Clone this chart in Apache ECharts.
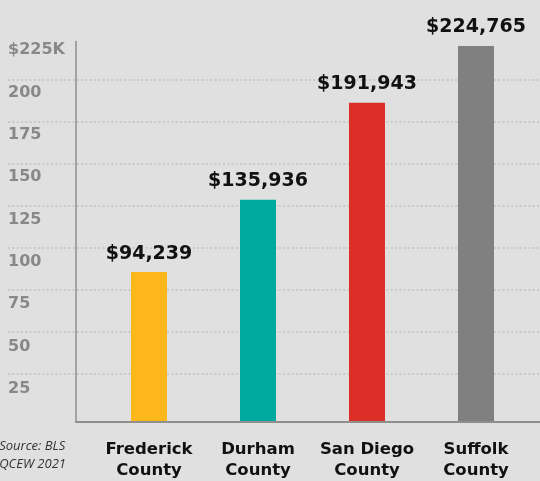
<!DOCTYPE html>
<html>
<head>
<meta charset="utf-8">
<script src="https://cdn.jsdelivr.net/npm/echarts@6/dist/echarts.min.js"></script>
<style>
html,body{margin:0;padding:0;background:#e0e0e0;}
#c{width:540px;height:481px;}
</style>
</head>
<body>
<div id="c"></div>
<script>
const categories = ["Frederick\nCounty", "Durham\nCounty", "San Diego\nCounty", "Suffolk\nCounty"];
const wages = [94239, 135936, 191943, 224765];
const barColors = ["#FDB71A", "#00A99D", "#DC2F28", "#808080"];
const tickLabels = ["25", "50", "75", "100", "125", "150", "175", "200", "$225K"];
const sourceLines = ["Source: BLS", "QCEW 2021"];

const chart = echarts.init(document.getElementById('c'), null, {renderer: 'canvas'});

const fmt = v => '$' + v.toLocaleString('en-US');

const option = {
  backgroundColor: '#e0e0e0',
  animation: false,
  grid: [
    {left: 94.5, right: 9.5, top: 41.5, bottom: 59.3},   // bars
    {left: 76, right: 0, top: 41.5, bottom: 59.3},       // axis lines
    {left: 8, right: 0, top: 79.3, bottom: 107},         // dotted gridlines
    {left: 8, right: 0, top: 50, bottom: 92}             // tick labels
  ],
  xAxis: [
    {
      gridIndex: 0, type: 'category', data: categories,
      axisLine: {show: false}, axisTick: {show: false},
      axisLabel: {
        margin: 18, color: '#111', fontFamily: 'DejaVu Sans', fontWeight: 'bold',
        fontSize: 16.5, lineHeight: 21, interval: 0
      }
    },
    {
      gridIndex: 1, type: 'value', min: 0, max: 1,
      axisLine: {show: true, lineStyle: {color: '#8f8f8f', width: 2}},
      axisTick: {show: false}, axisLabel: {show: false}, splitLine: {show: false}
    },
    {gridIndex: 2, type: 'value', show: false, min: 0, max: 1},
    {gridIndex: 3, type: 'value', show: false, min: 0, max: 1}
  ],
  yAxis: [
    {
      gridIndex: 0, type: 'value', min: 8300, max: 227300, show: false
    },
    {
      gridIndex: 1, type: 'value', min: 0, max: 1,
      axisLine: {show: true, lineStyle: {color: '#8f8f8f', width: 1.5}},
      axisTick: {show: false}, axisLabel: {show: false}, splitLine: {show: false}
    },
    {
      gridIndex: 2, type: 'value', min: 0, max: 7, interval: 1,
      axisLine: {show: false}, axisTick: {show: false}, axisLabel: {show: false},
      splitLine: {show: true, lineStyle: {color: '#c9c9c9', width: 2, type: [2, 2.3]}}
    },
    {
      gridIndex: 3, type: 'value', min: 0, max: 8, interval: 1,
      axisLine: {show: false}, axisTick: {show: false}, splitLine: {show: false},
      axisLabel: {
        inside: true, margin: 0, color: '#888888', fontFamily: 'DejaVu Sans',
        fontWeight: 'bold', fontSize: 16, align: 'left',
        formatter: v => tickLabels[v]
      }
    }
  ],
  series: [{
    type: 'bar',
    xAxisIndex: 0, yAxisIndex: 0,
    barWidth: 36,
    data: wages.map((v, i) => ({value: v, itemStyle: {color: barColors[i]}})),
    label: {
      show: true, position: 'top', distance: 9,
      formatter: p => fmt(p.value),
      color: '#111', fontFamily: 'DejaVu Sans', fontWeight: 'bold', fontSize: 19
    },
    z: 5
  }],
  graphic: [{
    type: 'text', right: 474, top: 437,
    style: {
      text: sourceLines.join('\n'), fill: '#333', font: 'italic 13px "Open Sans"',
      lineHeight: 18, align: 'right'
    }
  }]
};
chart.setOption(option);
</script>
</body>
</html>
